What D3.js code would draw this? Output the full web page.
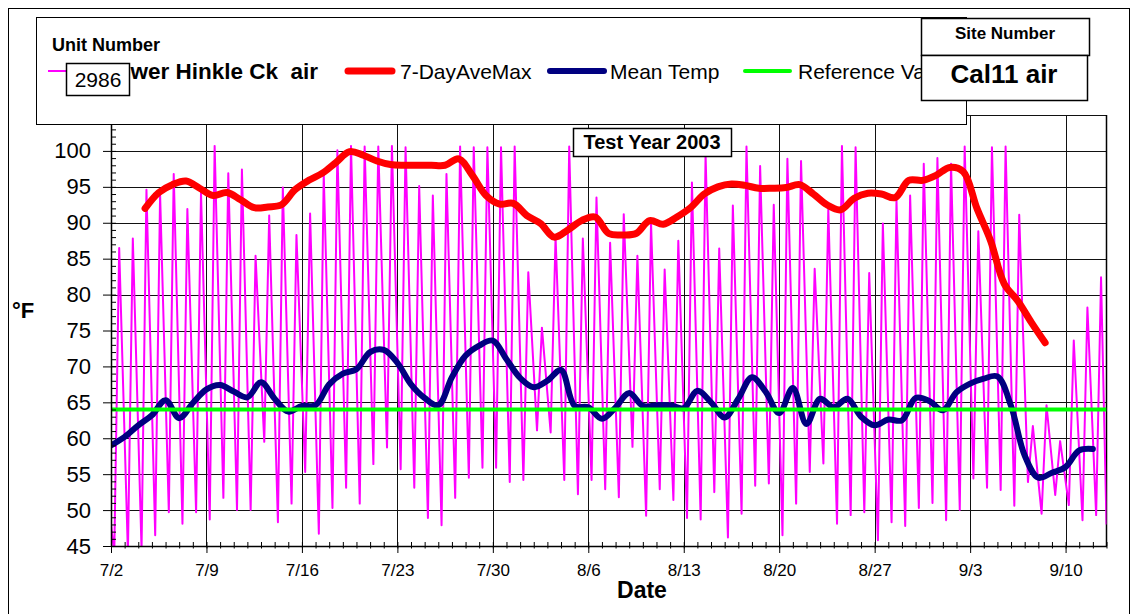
<!DOCTYPE html>
<html>
<head>
<meta charset="UTF-8">
<title>Cal11 air - Test Year 2003</title>
<style>
  body { margin: 0; background: #fff; }
  svg { display: block; font-family: "Liberation Sans", Arial, sans-serif; }
</style>
</head>
<body>
<svg width="1134" height="614"></svg>
<script src="https://d3js.org/d3.v7.min.js"></script>
<script>
// week labels on the date axis (one every 7 days from 7/2)
var tickLabels = ["7/2", "7/9", "7/16", "7/23", "7/30", "8/6", "8/13", "8/20", "8/27", "9/3", "9/10"];
var yTicks = [45, 50, 55, 60, 65, 70, 75, 80, 85, 90, 95, 100];

// hourly air temp, read as daily high / low (7/2 .. 9/13)
var dailyMax = [86.5, 87.8, 94.6, 94.0, 96.8, 91.9, 94.2, 100.7, 96.9, 97.4,
  85.4, 91.0, 94.9, 88.3, 91.3, 96.8, 100.1, 100.7, 100.6, 100.6,
  100.7, 100.5, 95.1, 93.8, 96.8, 100.6, 100.5, 100.5, 100.5, 100.6,
  83.1, 75.4, 88.0, 100.6, 87.8, 93.5, 87.2, 91.2, 85.4, 90.0,
  83.5, 87.5, 95.6, 99.5, 86.4, 92.4, 100.6, 97.9, 92.5, 98.9,
  98.6, 83.6, 91.9, 100.7, 100.5, 83.0, 89.9, 93.1, 93.8, 98.2,
  99.0, 98.2, 100.6, 88.8, 100.5, 100.6, 91.1, 61.7, 64.6, 59.6,
  73.6, 78.2, 82.4];
var dailyMin = [44.0, 44.0, 44.5, 46.5, 49.7, 48.1, 49.7, 48.7, 51.7, 50.0,
  50.0, 59.5, 48.3, 50.9, 55.3, 46.7, 50.3, 53.1, 50.9, 56.4,
  58.7, 55.7, 53.1, 48.9, 47.9, 51.7, 54.5, 55.9, 55.9, 53.9,
  54.2, 61.1, 60.8, 54.2, 52.2, 54.2, 52.9, 51.8, 58.8, 49.2,
  52.9, 51.4, 48.9, 48.7, 52.5, 46.2, 49.5, 53.4, 53.7, 46.5,
  50.9, 55.3, 56.5, 48.1, 49.3, 49.7, 45.8, 48.3, 47.8, 50.3,
  51.0, 48.6, 50.0, 54.4, 53.1, 52.8, 50.6, 53.9, 49.5, 52.1,
  50.7, 48.6, 49.3];
var firstReading = 48, lastReading = 48;

// daily mean (7/2 .. 9/13)
var meanTemp = [59.0, 60.2, 61.8, 63.2, 65.3, 62.8, 64.9, 66.8, 67.4, 66.5,
  65.7, 67.8, 65.5, 63.7, 64.5, 64.6, 67.5, 69.0, 69.6, 72.0,
  72.3, 70.5, 67.5, 65.6, 64.6, 68.5, 71.5, 72.9, 73.6, 71.0,
  68.4, 67.1, 68.0, 69.5, 64.5, 64.3, 62.7, 64.3, 66.3, 64.5,
  64.6, 64.6, 64.2, 66.6, 65.0, 62.9, 65.5, 68.5, 66.5, 63.5,
  67.0, 62.0, 65.5, 64.3, 65.5, 63.0, 61.8, 62.6, 62.5, 65.6,
  65.2, 63.9, 66.4, 67.6, 68.3, 68.6, 64.5, 57.6, 54.5, 55.2,
  56.0, 58.3, 58.5];

// 7-day average of daily max, 7/4 .. 9/7
var aveMaxStart = 2;
var aveMax = [92.0, 94.2, 95.3, 95.8, 94.8, 93.8, 94.2, 93.2, 92.1, 92.2,
  92.5, 94.6, 95.9, 96.9, 98.4, 99.9, 99.4, 98.6, 98.1, 98.0,
  98.0, 98.0, 98.0, 98.9, 96.6, 93.8, 92.6, 92.7, 91.0, 89.9,
  88.0, 89.0, 90.3, 90.8, 88.5, 88.3, 88.5, 90.3, 89.8, 90.8,
  92.1, 94.0, 95.0, 95.4, 95.2, 94.8, 94.8, 94.9, 95.3, 94.0,
  92.5, 91.8, 93.4, 94.1, 94.0, 93.5, 95.9, 95.9, 96.6, 97.7,
  97.1, 92.0, 87.5, 81.5, 79.1, 76.1, 73.3];

var refValue = 64;
var seriesNames = ["Lower Hinkle Ck  air", "7-DayAveMax", "Mean Temp", "Reference Value"];
var seriesColors = ["#ff00ff", "#ff0000", "#000080", "#00ff00"];

var svg = d3.select("svg");
var plotL = 111, plotR = 1106.5, plotT = 115, plotB = 546;
var nDays = 73;

var x = d3.scaleLinear().domain([0, nDays]).range([plotL, plotR]);
var y = d3.scaleLinear().domain([45, 105]).range([plotB, plotT]);

// chart area frame
svg.append("rect")
  .attr("x", 8.5).attr("y", 8.5)
  .attr("width", 1121).attr("height", 640)
  .attr("fill", "#fff").attr("stroke", "#000");

var g = svg.append("g");

// gridlines
g.selectAll(".hgrid")
  .data(yTicks.slice(1).concat([105]))
  .enter().append("line")
  .attr("x1", plotL).attr("x2", plotR)
  .attr("y1", function(d) { return Math.round(y(d)) + 0.5; })
  .attr("y2", function(d) { return Math.round(y(d)) + 0.5; })
  .attr("stroke", "#111").attr("stroke-width", 1);

var weekDays = tickLabels.map(function(d, i) { return i * 7; });
g.selectAll(".vgrid")
  .data(weekDays.slice(1))
  .enter().append("line")
  .attr("x1", function(d) { return Math.round(x(d)) + 0.5; })
  .attr("x2", function(d) { return Math.round(x(d)) + 0.5; })
  .attr("y1", plotT).attr("y2", plotB)
  .attr("stroke", "#111").attr("stroke-width", 1);

g.append("line")
  .attr("x1", plotR).attr("x2", plotR)
  .attr("y1", plotT).attr("y2", plotB)
  .attr("stroke", "#000").attr("stroke-width", 1.5);

// series
svg.append("clipPath").attr("id", "plotclip")
  .append("rect")
  .attr("x", plotL).attr("y", plotT)
  .attr("width", plotR - plotL).attr("height", plotB - plotT);

var series = svg.append("g").attr("clip-path", "url(#plotclip)");

var hourly = [{t: 0, v: firstReading}];
dailyMax.forEach(function(v, d) {
  hourly.push({t: d + 0.24, v: dailyMin[d]});
  hourly.push({t: d + 0.6, v: v});
});
hourly.push({t: nDays, v: lastReading});

var straight = d3.line()
  .x(function(d) { return x(d.t); })
  .y(function(d) { return y(d.v); });

var smooth = d3.line()
  .x(function(d) { return x(d.t); })
  .y(function(d) { return y(d.v); })
  .curve(d3.curveCatmullRom.alpha(0.5));

series.append("path")
  .datum(hourly)
  .attr("d", straight)
  .attr("fill", "none")
  .attr("stroke", seriesColors[0])
  .attr("stroke-width", 2)
  .attr("stroke-linejoin", "round");

series.append("path")
  .datum(aveMax.map(function(v, i) { return {t: aveMaxStart + i + 0.5, v: v}; }))
  .attr("d", smooth)
  .attr("fill", "none")
  .attr("stroke", seriesColors[1])
  .attr("stroke-width", 7)
  .attr("stroke-linecap", "round");

series.append("path")
  .datum(meanTemp.map(function(v, i) { return {t: i, v: v}; }))
  .attr("d", smooth)
  .attr("fill", "none")
  .attr("stroke", seriesColors[2])
  .attr("stroke-width", 6)
  .attr("stroke-linecap", "round");

series.append("path")
  .datum([{t: 0, v: refValue}, {t: nDays, v: refValue}])
  .attr("d", straight)
  .attr("fill", "none")
  .attr("stroke", seriesColors[3])
  .attr("stroke-width", 4);

// y axis
var yAxis = svg.append("g")
  .attr("transform", "translate(" + plotL + ",0)")
  .call(d3.axisLeft(y).tickValues(yTicks).tickSizeInner(8).tickSizeOuter(0).tickPadding(12));
yAxis.select(".domain").attr("stroke-width", 1.5);
yAxis.selectAll("text")
  .attr("font-family", "Liberation Sans, Arial, sans-serif")
  .attr("font-size", 22).attr("fill", "#000");

var yMinor = svg.append("g")
  .attr("transform", "translate(" + plotL + ",0)")
  .call(d3.axisRight(y).tickValues(d3.range(45, 106)).tickSize(5).tickFormat(""));
yMinor.select(".domain").remove();

// x axis
var xAxis = svg.append("g")
  .attr("transform", "translate(0," + plotB + ")")
  .call(d3.axisBottom(x).tickValues(weekDays)
    .tickFormat(function(d, i) { return tickLabels[i]; })
    .tickSizeInner(7).tickSizeOuter(0).tickPadding(11));
xAxis.select(".domain").attr("stroke-width", 1.5);
xAxis.selectAll("text")
  .attr("font-family", "Liberation Sans, Arial, sans-serif")
  .attr("font-size", 17).attr("fill", "#000");

var xMinor = svg.append("g")
  .attr("transform", "translate(0," + (plotB - 4) + ")")
  .call(d3.axisBottom(x).tickValues(d3.range(0, nDays + 1)).tickSize(6.5).tickFormat(""));
xMinor.select(".domain").remove();

// axis titles
svg.append("text")
  .attr("x", 12).attr("y", 318)
  .attr("font-size", 22).attr("font-weight", "bold")
  .text("°F");

svg.append("text")
  .attr("x", 642).attr("y", 598)
  .attr("text-anchor", "middle")
  .attr("font-size", 23).attr("font-weight", "bold")
  .text("Date");

// test year label
svg.append("rect")
  .attr("x", 573.5).attr("y", 128.5).attr("width", 158).attr("height", 28)
  .attr("fill", "#fff").attr("stroke", "#000").attr("stroke-width", 1.5);
svg.append("text")
  .attr("x", 652).attr("y", 149)
  .attr("text-anchor", "middle")
  .attr("font-size", 20).attr("font-weight", "bold")
  .text("Test Year 2003");

// legend
var legend = svg.append("g");
legend.append("rect")
  .attr("x", 36.5).attr("y", 17.5).attr("width", 930).attr("height", 107)
  .attr("fill", "#fff").attr("stroke", "#000");
legend.append("text")
  .attr("x", 52).attr("y", 51)
  .attr("font-size", 18).attr("font-weight", "bold")
  .text("Unit Number");

var legendItems = [
  {x: 48, len: 44, w: 2, tx: 103, bold: true, size: 22.5},
  {x: 348, len: 44, w: 7, tx: 400, bold: false, size: 21},
  {x: 550, len: 54, w: 6, tx: 610, bold: false, size: 21},
  {x: 745, len: 45, w: 4, tx: 798, bold: false, size: 21}
];
legendItems.forEach(function(it, i) {
  legend.append("line")
    .attr("x1", it.x).attr("x2", it.x + it.len)
    .attr("y1", 71).attr("y2", 71)
    .attr("stroke", seriesColors[i])
    .attr("stroke-width", it.w)
    .attr("stroke-linecap", i === 0 ? "butt" : "round");
  legend.append("text")
    .attr("x", it.tx).attr("y", 79)
    .attr("font-size", it.size)
    .attr("font-weight", it.bold ? "bold" : "normal")
    .style("white-space", "pre")
    .text(seriesNames[i]);
});

// unit number box
legend.append("rect")
  .attr("x", 66.5).attr("y", 63.5).attr("width", 63).attr("height", 32)
  .attr("fill", "#fff").attr("stroke", "#000").attr("stroke-width", 1.5);
legend.append("text")
  .attr("x", 98).attr("y", 87)
  .attr("text-anchor", "middle")
  .attr("font-size", 21)
  .text("2986");

// site number box
var site = svg.append("g");
site.append("rect")
  .attr("x", 921.5).attr("y", 18.5).attr("width", 168).attr("height", 37)
  .attr("fill", "#fff").attr("stroke", "#000").attr("stroke-width", 1.5);
site.append("rect")
  .attr("x", 921.5).attr("y", 55.5).attr("width", 166).attr("height", 45)
  .attr("fill", "#fff").attr("stroke", "#000").attr("stroke-width", 1.5);
site.append("text")
  .attr("x", 1005).attr("y", 39)
  .attr("text-anchor", "middle")
  .attr("font-size", 17).attr("font-weight", "bold")
  .text("Site Number");
site.append("text")
  .attr("x", 1004).attr("y", 83)
  .attr("text-anchor", "middle")
  .attr("font-size", 26).attr("font-weight", "bold")
  .text("Cal11 air");
</script>
</body>
</html>
